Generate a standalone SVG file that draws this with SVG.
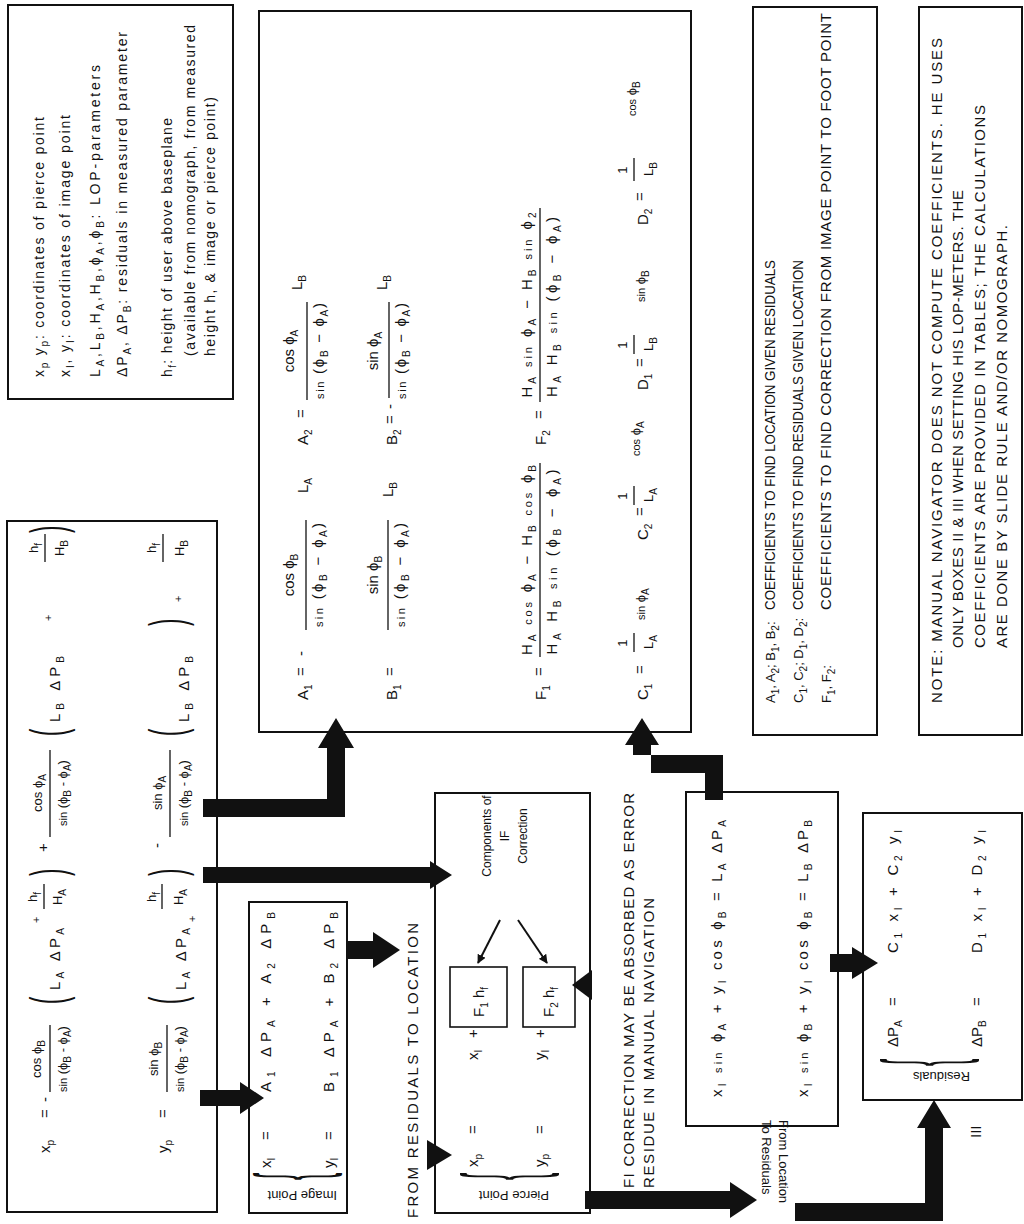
<svg xmlns="http://www.w3.org/2000/svg" width="1024" height="1224" viewBox="0 0 1024 1224" xml:space="preserve">
<style>
text{font-family:"Liberation Sans","DejaVu Sans",sans-serif;font-size:15px;fill:#111}
.s{font-size:10px;baseline-shift:-4px}
.f{font-size:11px}
.n{font-size:13px}
.lg{font-size:14px}
.cap{font-size:15px}
.c14{font-size:14px}
.p{font-size:22px}
.br{font-size:22px}
.box{fill:none;stroke:#111;stroke-width:2}
.fb{fill:none;stroke:#111;stroke-width:1.6}
.fl{stroke:#111;stroke-width:1.3}
.thin{stroke:#111;stroke-width:2;fill:none}
</style>
<defs><marker id="ah" viewBox="0 0 10 10" refX="9" refY="5" markerWidth="9" markerHeight="9" markerUnits="userSpaceOnUse" orient="auto"><path d="M0,0 L10,5 L0,10 z" fill="#111"/></marker></defs>
<rect width="1024" height="1224" fill="#fff"/>

<g id="connectors" fill="#111">
<path d="M203,799 H327 V748 H318 L336,718 L354,748 H345 V817 H203 Z"/>
<path d="M203,867 H430 V861 L452,875 L430,889 V883 H203 Z"/>
<path d="M200,1090 H240 V1082 L264,1098 L240,1114 V1106 H200 Z"/>
<path d="M347,941 H373 V932 L400,950 L373,968 V959 H347 Z"/>
<path d="M427,1140 L452,1155 L427,1170 Z"/>
<path d="M592,970 L572,985 L592,1000 Z"/>
<path d="M705,800 V773 H651 V745 H659 L642,718 L625,745 H633 V755 H723 V800 Z"/>
<path d="M830,954 H852 V947 L878,963 L852,979 V972 H830 Z"/>
<path d="M585,1191 H730 V1182 L757,1200 L730,1218 V1209 H585 Z"/>
<path d="M795,1203 H925 V1128 H917 L934,1100 L951,1128 H943 V1221 H795 Z"/>
<line class="thin" x1="500" y1="920" x2="478" y2="963" marker-end="url(#ah)"/>
<line class="thin" x1="518" y1="920" x2="547" y2="963" marker-end="url(#ah)"/>
</g>

<g id="legend">
<rect class="box" x="8" y="5" width="225" height="394"/>
<g transform="matrix(0,-1,1,0,0,1224)">
<text class="lg" x="847" y="44" textLength="260">x<tspan class="s">p</tspan> y<tspan class="s">p</tspan>:  coordinates of pierce point</text>
<text class="lg" x="847" y="70" textLength="262">x<tspan class="s">I</tspan>, y<tspan class="s">I</tspan>:  coordinates of image point</text>
<text class="lg" x="847" y="100" textLength="312">L<tspan class="s">A</tspan>,L<tspan class="s">B</tspan>,H<tspan class="s">A</tspan>,H<tspan class="s">B</tspan>,ϕ<tspan class="s">A</tspan>,ϕ<tspan class="s">B</tspan>:  LOP-parameters</text>
<text class="lg" x="847" y="127" textLength="345">ΔP<tspan class="s">A</tspan>, ΔP<tspan class="s">B</tspan>:  residuals in measured parameter</text>
<text class="lg" x="847" y="172" textLength="259">h<tspan class="s">f</tspan>:  height of user above baseplane</text>
<text class="lg" x="868" y="195" textLength="331">(available from nomograph, from measured</text>
<text class="lg" x="868" y="215" textLength="259">height h, &amp; image or pierce point)</text>
</g>
</g>

<g id="box-I">
<rect class="box" x="7" y="521" width="210" height="691"/>
<g transform="matrix(0,-1,1,0,0,1224)">
<text x="71" y="50">x<tspan class="s">p</tspan></text>
<text x="106" y="50">=</text>
<text x="122" y="50">-</text>
<text class="n" x="165" y="41" text-anchor="middle">cos ϕ<tspan class="s">B</tspan></text>
<line class="fl" x1="132" y1="50" x2="199" y2="50"/>
<text class="n" x="165" y="67" text-anchor="middle"><tspan class="f">sin</tspan> (ϕ<tspan class="s">B</tspan> - ϕ<tspan class="s">A</tspan>)</text>
<text class="p" transform="translate(220,65) scale(1,2.3)">(</text>
<text x="234" y="60" textLength="62">L<tspan class="s">A</tspan>  ΔP<tspan class="s">A</tspan></text>
<text class="f" x="301" y="40">+</text>
<text class="n" x="327" y="37" text-anchor="middle">h<tspan class="s">f</tspan></text>
<line class="fl" x1="315" y1="44" x2="340" y2="44"/>
<text class="n" x="327" y="62" text-anchor="middle">H<tspan class="s">A</tspan></text>
<text class="p" transform="translate(348,65) scale(1,2.3)">)</text>
<text x="372" y="48">+</text>
<text class="n" x="431" y="42" text-anchor="middle">cos ϕ<tspan class="s">A</tspan></text>
<line class="fl" x1="387" y1="50" x2="474" y2="50"/>
<text class="n" x="431" y="67" text-anchor="middle"><tspan class="f">sin</tspan> (ϕ<tspan class="s">B</tspan> - ϕ<tspan class="s">A</tspan>)</text>
<text class="p" transform="translate(488,65) scale(1,2.3)">(</text>
<text x="502" y="60" textLength="66">L<tspan class="s">B</tspan>  ΔP<tspan class="s">B</tspan></text>
<text class="f" x="603" y="52">+</text>
<text class="n" x="676" y="38" text-anchor="middle">h<tspan class="s">f</tspan></text>
<line class="fl" x1="662" y1="45" x2="690" y2="45"/>
<text class="n" x="676" y="64" text-anchor="middle">H<tspan class="s">B</tspan></text>
<text class="p" transform="translate(691,65) scale(1,2.3)">)</text>

<text x="71" y="168">y<tspan class="s">p</tspan></text>
<text x="106" y="168">=</text>
<text class="n" x="165" y="158" text-anchor="middle">sin ϕ<tspan class="s">B</tspan></text>
<line class="fl" x1="132" y1="167" x2="199" y2="167"/>
<text class="n" x="165" y="184" text-anchor="middle"><tspan class="f">sin</tspan> (ϕ<tspan class="s">B</tspan> - ϕ<tspan class="s">A</tspan>)</text>
<text class="p" transform="translate(220,184) scale(1,2.3)">(</text>
<text x="234" y="186" textLength="62">L<tspan class="s">A</tspan>  ΔP<tspan class="s">A</tspan></text>
<text class="f" x="302" y="196">+</text>
<text class="n" x="327" y="156" text-anchor="middle">h<tspan class="s">f</tspan></text>
<line class="fl" x1="315" y1="162" x2="340" y2="162"/>
<text class="n" x="327" y="183" text-anchor="middle">H<tspan class="s">A</tspan></text>
<text class="p" transform="translate(348,184) scale(1,2.3)">)</text>
<text x="376" y="162">-</text>
<text class="n" x="431" y="162" text-anchor="middle">sin ϕ<tspan class="s">A</tspan></text>
<line class="fl" x1="387" y1="170" x2="474" y2="170"/>
<text class="n" x="431" y="188" text-anchor="middle"><tspan class="f">sin</tspan> (ϕ<tspan class="s">B</tspan> - ϕ<tspan class="s">A</tspan>)</text>
<text class="p" transform="translate(488,184) scale(1,2.3)">(</text>
<text x="502" y="189" textLength="66">L<tspan class="s">B</tspan>  ΔP<tspan class="s">B</tspan></text>
<text class="p" transform="translate(598,184) scale(1,2.3)">)</text>
<text class="f" x="622" y="182">+</text>
<text class="n" x="676" y="156" text-anchor="middle">h<tspan class="s">f</tspan></text>
<line class="fl" x1="662" y1="163" x2="690" y2="163"/>
<text class="n" x="676" y="184" text-anchor="middle">H<tspan class="s">B</tspan></text>
</g>
</g>

<g id="box-II">
<rect class="box" x="259" y="11" width="432" height="721"/>
<g transform="matrix(0,-1,1,0,0,1224)">
<text x="524" y="308">A<tspan class="s">1</tspan></text>
<text x="548" y="306">=</text>
<text x="568" y="306">-</text>
<text x="649" y="294" text-anchor="middle">cos ϕ<tspan class="s">B</tspan></text>
<line class="fl" x1="594" y1="306" x2="704" y2="306"/>
<text x="649" y="323" text-anchor="middle" textLength="104"><tspan class="f">sin</tspan> (ϕ<tspan class="s">B</tspan> − ϕ<tspan class="s">A</tspan>)</text>
<text x="731" y="308">L<tspan class="s">A</tspan></text>
<text x="779" y="308">A<tspan class="s">2</tspan></text>
<text x="806" y="306">=</text>
<text x="873" y="294" text-anchor="middle">cos ϕ<tspan class="s">A</tspan></text>
<line class="fl" x1="824" y1="307" x2="922" y2="307"/>
<text x="873" y="324" text-anchor="middle" textLength="96"><tspan class="f">sin</tspan> (ϕ<tspan class="s">B</tspan> − ϕ<tspan class="s">A</tspan>)</text>
<text x="934" y="302">L<tspan class="s">B</tspan></text>

<text x="524" y="397">B<tspan class="s">1</tspan></text>
<text x="548" y="395">=</text>
<text x="649" y="378" text-anchor="middle">sin ϕ<tspan class="s">B</tspan></text>
<line class="fl" x1="594" y1="388" x2="704" y2="388"/>
<text x="649" y="405" text-anchor="middle" textLength="104"><tspan class="f">sin</tspan> (ϕ<tspan class="s">B</tspan> − ϕ<tspan class="s">A</tspan>)</text>
<text x="727" y="393">L<tspan class="s">B</tspan></text>
<text x="779" y="397">B<tspan class="s">2</tspan></text>
<text x="800" y="395">=</text>
<text x="815" y="395">-</text>
<text x="873" y="378" text-anchor="middle">sin ϕ<tspan class="s">A</tspan></text>
<line class="fl" x1="826" y1="389" x2="922" y2="389"/>
<text x="873" y="406" text-anchor="middle" textLength="96"><tspan class="f">sin</tspan> (ϕ<tspan class="s">B</tspan> − ϕ<tspan class="s">A</tspan>)</text>
<text x="934" y="387">L<tspan class="s">B</tspan></text>

<text x="524" y="546">F<tspan class="s">1</tspan></text>
<text x="548" y="544">=</text>
<text x="664" y="532" text-anchor="middle" textLength="190">H<tspan class="s">A</tspan> <tspan class="f">cos</tspan> ϕ<tspan class="s">A</tspan> − H<tspan class="s">B</tspan> <tspan class="f">cos</tspan> ϕ<tspan class="s">B</tspan></text>
<line class="fl" x1="567" y1="540" x2="761" y2="540"/>
<text x="662" y="557" text-anchor="middle" textLength="185">H<tspan class="s">A</tspan> H<tspan class="s">B</tspan> <tspan class="f">sin</tspan> (ϕ<tspan class="s">B</tspan> − ϕ<tspan class="s">A</tspan>)</text>
<text x="779" y="546">F<tspan class="s">2</tspan></text>
<text x="805" y="544">=</text>
<text x="919" y="532" text-anchor="middle" textLength="185">H<tspan class="s">A</tspan> <tspan class="f">sin</tspan> ϕ<tspan class="s">A</tspan> − H<tspan class="s">B</tspan> <tspan class="f">sin</tspan> ϕ<tspan class="s">2</tspan></text>
<line class="fl" x1="822" y1="540" x2="1016" y2="540"/>
<text x="917" y="557" text-anchor="middle" textLength="180">H<tspan class="s">A</tspan> H<tspan class="s">B</tspan> <tspan class="f">sin</tspan> (ϕ<tspan class="s">B</tspan> − ϕ<tspan class="s">A</tspan>)</text>

<text x="524" y="648">C<tspan class="s">1</tspan></text>
<text x="550" y="645">=</text>
<text class="n" x="581" y="627" text-anchor="middle">1</text>
<line class="fl" x1="572" y1="634" x2="591" y2="634"/>
<text class="n" x="582" y="653" text-anchor="middle">L<tspan class="s">A</tspan></text>
<text class="n" x="604" y="645"><tspan class="f">sin</tspan> ϕ<tspan class="s">A</tspan></text>
<text x="684" y="648">C<tspan class="s">2</tspan></text>
<text x="708" y="645">=</text>
<text class="n" x="728" y="627" text-anchor="middle">1</text>
<line class="fl" x1="719" y1="634" x2="738" y2="634"/>
<text class="n" x="729" y="653" text-anchor="middle">L<tspan class="s">A</tspan></text>
<text class="n" x="768" y="640"><tspan class="f">cos</tspan> ϕ<tspan class="s">A</tspan></text>
<text x="834" y="648">D<tspan class="s">1</tspan></text>
<text x="857" y="645">=</text>
<text class="n" x="879" y="627" text-anchor="middle">1</text>
<line class="fl" x1="870" y1="634" x2="889" y2="634"/>
<text class="n" x="880" y="653" text-anchor="middle">L<tspan class="s">B</tspan></text>
<text class="n" x="922" y="645"><tspan class="f">sin</tspan> ϕ<tspan class="s">B</tspan></text>
<text x="999" y="648">D<tspan class="s">2</tspan></text>
<text x="1023" y="645">=</text>
<text class="n" x="1054" y="627" text-anchor="middle">1</text>
<line class="fl" x1="1043" y1="634" x2="1066" y2="634"/>
<text class="n" x="1055" y="653" text-anchor="middle">L<tspan class="s">B</tspan></text>
<text class="n" x="1108" y="636"><tspan class="f">cos</tspan> ϕ<tspan class="s">B</tspan></text>
</g>
</g>

<g id="coef-legend">
<rect class="box" x="753" y="7" width="124" height="728"/>
<g transform="matrix(0,-1,1,0,0,1224)">
<text class="n" x="521" y="775">A<tspan class="s">1</tspan>, A<tspan class="s">2</tspan>; B<tspan class="s">1</tspan>, B<tspan class="s">2</tspan>:</text>
<text class="c14" x="614" y="775" textLength="350" lengthAdjust="spacingAndGlyphs">COEFFICIENTS TO FIND LOCATION GIVEN RESIDUALS</text>
<text class="n" x="521" y="803">C<tspan class="s">1</tspan>, C<tspan class="s">2</tspan>; D<tspan class="s">1</tspan>, D<tspan class="s">2</tspan>:</text>
<text class="c14" x="614" y="803" textLength="350" lengthAdjust="spacingAndGlyphs">COEFFICIENTS TO FIND RESIDUALS GIVEN LOCATION</text>
<text class="n" x="521" y="831">F<tspan class="s">1</tspan>, F<tspan class="s">2</tspan>:</text>
<text class="cap" x="614" y="831" textLength="597">COEFFICIENTS TO FIND CORRECTION FROM IMAGE POINT TO FOOT POINT</text>
</g>
</g>

<g id="note">
<rect class="box" x="919" y="7" width="103" height="728"/>
<g transform="matrix(0,-1,1,0,0,1224)">
<text class="cap" x="521" y="942" textLength="665">NOTE:  MANUAL NAVIGATOR DOES NOT COMPUTE COEFFICIENTS. HE USES</text>
<text class="cap" x="576" y="963" textLength="458">ONLY BOXES II &amp; III WHEN SETTING HIS LOP-METERS.  THE</text>
<text class="cap" x="576" y="985" textLength="543">COEFFICIENTS ARE PROVIDED IN TABLES; THE CALCULATIONS</text>
<text class="cap" x="576" y="1007" textLength="423">ARE DONE BY SLIDE RULE AND/OR NOMOGRAPH.</text>
</g>
</g>

<g id="image-point">
<rect class="box" x="249" y="902" width="98" height="311"/>
<g transform="matrix(0,-1,1,0,0,1224)">
<text class="br" transform="translate(44,322) scale(1,4.3)">{</text>
<text class="n" transform="translate(33,337) rotate(-90)">Image Point</text>
<text x="56" y="271">x<tspan class="s">I</tspan></text>
<text x="84" y="271">=</text>
<text x="132" y="271" textLength="180">A<tspan class="s">1</tspan> ΔP<tspan class="s">A</tspan> + A<tspan class="s">2</tspan> ΔP<tspan class="s">B</tspan></text>
<text x="56" y="334">y<tspan class="s">I</tspan></text>
<text x="84" y="334">=</text>
<text x="132" y="334" textLength="180">B<tspan class="s">1</tspan> ΔP<tspan class="s">A</tspan> + B<tspan class="s">2</tspan> ΔP<tspan class="s">B</tspan></text>
</g>
</g>

<g id="pierce-point">
<rect class="box" x="435" y="793" width="155" height="420"/>
<rect class="fb" x="450" y="967" width="57" height="60"/>
<rect class="fb" x="523" y="967" width="52" height="60"/>
<g transform="matrix(0,-1,1,0,0,1224)">
<text class="br" transform="translate(44,537) scale(1,4.8)">{</text>
<text class="n" transform="translate(33,549) rotate(-90)">Pierce Point</text>
<text x="57" y="478">x<tspan class="s">p</tspan></text>
<text x="90" y="478">=</text>
<text x="164" y="478">x<tspan class="s">I</tspan></text>
<text x="186" y="478">+</text>
<text x="207" y="484">F<tspan class="s">1</tspan> h<tspan class="s">f</tspan></text>
<text x="57" y="545">y<tspan class="s">p</tspan></text>
<text x="90" y="545">=</text>
<text x="164" y="545">y<tspan class="s">I</tspan></text>
<text x="186" y="545">+</text>
<text x="207" y="554">F<tspan class="s">2</tspan> h<tspan class="s">f</tspan></text>
<text class="n" x="388" y="491" text-anchor="middle" style="font-size:12px">Components of</text>
<text class="n" x="388" y="509" text-anchor="middle" style="font-size:12px">IF</text>
<text class="n" x="388" y="527" text-anchor="middle" style="font-size:12px">Correction</text>
</g>
</g>

<g id="location-residual">
<rect class="box" x="686" y="792" width="152" height="334"/>
<g transform="matrix(0,-1,1,0,0,1224)">
<text x="127" y="722" textLength="277">x<tspan class="s">I</tspan> <tspan class="f">sin</tspan> ϕ<tspan class="s">A</tspan> + y<tspan class="s">I</tspan> cos ϕ<tspan class="s">B</tspan> = L<tspan class="s">A</tspan> ΔP<tspan class="s">A</tspan></text>
<text x="127" y="808" textLength="277">x<tspan class="s">I</tspan> <tspan class="f">sin</tspan> ϕ<tspan class="s">B</tspan> + y<tspan class="s">I</tspan> cos ϕ<tspan class="s">B</tspan> = L<tspan class="s">B</tspan> ΔP<tspan class="s">B</tspan></text>
</g>
</g>

<g id="residuals">
<rect class="box" x="863" y="813" width="159" height="287"/>
<g transform="matrix(0,-1,1,0,0,1224)">
<text class="br" transform="translate(158,957) scale(1,4.8)">{</text>
<text class="n" transform="translate(152,970) rotate(-90)">Residuals</text>
<text x="177" y="898">ΔP<tspan class="s">A</tspan></text>
<text x="218" y="898">=</text>
<text x="271" y="898" textLength="123">C<tspan class="s">1</tspan> x<tspan class="s">I</tspan> + C<tspan class="s">2</tspan> y<tspan class="s">I</tspan></text>
<text x="177" y="982">ΔP<tspan class="s">B</tspan></text>
<text x="218" y="982">=</text>
<text x="271" y="982" textLength="123">D<tspan class="s">1</tspan> x<tspan class="s">I</tspan> + D<tspan class="s">2</tspan> y<tspan class="s">I</tspan></text>
<text x="86" y="981">III</text>
</g>
</g>

<g id="labels">
<g transform="matrix(0,-1,1,0,0,1224)">
<text class="cap" x="6" y="418" textLength="295">FROM RESIDUALS TO LOCATION</text>
<text class="cap" x="36" y="634" textLength="395">FI CORRECTION MAY BE ABSORBED AS ERROR</text>
<text class="cap" x="36" y="654" textLength="290">RESIDUE IN MANUAL NAVIGATION</text>
</g>
<text class="n" transform="translate(779,1120) rotate(90)">From Location</text>
<text class="n" transform="translate(762,1120) rotate(90)">To Residuals</text>
</g>
</svg>
